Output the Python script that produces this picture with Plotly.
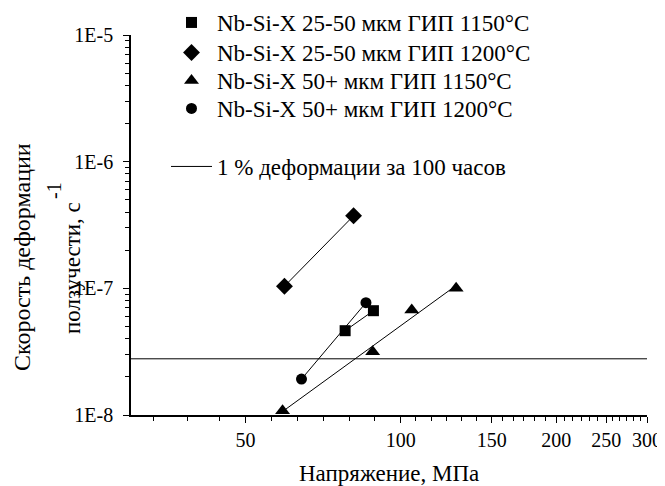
import numpy as np
import plotly.graph_objects as go

# ---- data ----
stress_25_1150 = [78.0, 88.5]
rate_25_1150 = [4.63e-8, 6.66e-8]

stress_25_1200 = [59.5, 81.0]
rate_25_1200 = [1.04e-7, 3.74e-7]

stress_50_1150 = [59.0, 88.2, 105.0, 128.0]
rate_50_1150 = [1.08e-8, 3.16e-8, 6.75e-8, 1.0e-7]

stress_50_1200 = [64.2, 85.6]
rate_50_1200 = [1.92e-8, 7.7e-8]

# 1 % strain in 100 hours
strain_limit = 0.01
hours_limit = 100
rate_limit = strain_limit / (hours_limit * 3600)

x_range = [30, 300]
y_range_exp = [-8, -5]
x_tickvals = [50, 100, 150, 200, 250, 300]
x_ticktext = ["50", "100", "150", "200", "250", "300"]
x_minor_low = [33.2, 38.6, 44.5]
y_tickvals = [1e-8, 1e-7, 1e-6, 1e-5]
y_ticktext = ["1E-8", "1E-7", "1E-6", "1E-5"]

names = [
    "Nb-Si-X 25-50 мкм ГИП 1150°C",
    "Nb-Si-X 25-50 мкм ГИП 1200°C",
    "Nb-Si-X 50+ мкм ГИП 1150°C",
    "Nb-Si-X 50+ мкм ГИП 1200°C",
]
limit_name = "1 % деформации за 100 часов"
x_title = "Напряжение, МПа"
y_title_1 = "Скорость деформации"
y_title_2 = "ползучести, с"
y_title_sup = "-1"

# ---- derived ticks ----
x_minor = list(x_minor_low)
for a, b in zip(x_tickvals[:-1], x_tickvals[1:]):
    r = (b / a) ** (1 / 6)
    x_minor += [a * r ** k for k in range(1, 6)]
y_minor = [k * 10.0 ** e for e in range(y_range_exp[0], y_range_exp[1]) for k in range(2, 10)]

# power-law fit for 50+ 1150 series
p = np.polyfit(np.log10(stress_50_1150), np.log10(rate_50_1150), 1)
fit_x = np.array([min(stress_50_1150), max(stress_50_1150)])
fit_y = 10 ** np.polyval(p, np.log10(fit_x))

FONT = "Liberation Serif, Times New Roman, serif"
black = "#000000"
TXT = 23

fig = go.Figure()

# connecting / fit lines (no legend entries)
for xs, ys in [(stress_25_1150, rate_25_1150), (stress_25_1200, rate_25_1200),
               (list(fit_x), list(fit_y)), (stress_50_1200, rate_50_1200)]:
    fig.add_trace(go.Scatter(x=xs, y=ys, mode="lines", showlegend=False,
                             hoverinfo="skip", line=dict(color=black, width=1)))

# markers (legend shows symbol only)
series = [
    (stress_25_1150, rate_25_1150, "square", 11),
    (stress_25_1200, rate_25_1200, "diamond", 13),
    (stress_50_1150, rate_50_1150, "triangle-up", 13),
    (stress_50_1200, rate_50_1200, "circle", 11),
]
for i, (xs, ys, sym, sz) in enumerate(series):
    fig.add_trace(go.Scatter(x=xs, y=ys, mode="markers", name=names[i],
                             marker=dict(symbol=sym, size=sz, color=black),
                             legend="legend" if i == 0 else f"legend{i + 1}"))

fig.add_trace(go.Scatter(x=x_range, y=[rate_limit, rate_limit], mode="lines",
                         name=limit_name, line=dict(color=black, width=1),
                         legend="legend5"))

W, H = 665, 486
OFF = 8  # page body margin
L, T = 131 - OFF, 35 - OFF
R, B = W - (647 - OFF), H - (415 - OFF)
pw, ph = W - L - R, H - T - B


def sp(sx, sy):
    """screen pixel -> paper coordinates"""
    fx, fy = sx - OFF, sy - OFF
    return (fx - L) / pw, (H - B - fy) / ph


a1 = sp(22, 257)
a2 = sp(72, 268)
a3 = sp(54, 191)
ax = sp(389, 473)

legend_tops = [1, 31, 59, 87, 145]
legends = {}
for i, top in enumerate(legend_tops):
    pos = sp(166, top)
    key = "legend" if i == 0 else f"legend{i + 1}"
    legends[key] = dict(
        x=pos[0], y=pos[1], xanchor="left", yanchor="top",
        bgcolor="rgba(0,0,0,0)", borderwidth=0,
        font=dict(family=FONT, size=TXT, color=black),
        itemwidth=41,
    )

fig.update_layout(
    width=W, height=H,
    margin=dict(l=L, r=R, t=T, b=B, pad=0, autoexpand=False),
    paper_bgcolor="white", plot_bgcolor="white",
    font=dict(family=FONT, size=TXT, color=black),
    xaxis=dict(
        type="log", range=[np.log10(x_range[0]), np.log10(x_range[1])],
        tickmode="array", tickvals=x_tickvals, ticktext=x_ticktext, tickangle=0,
        ticks="outside", ticklen=6, tickwidth=1.2, tickcolor=black,
        showline=True, linewidth=1.5, linecolor=black, mirror=False,
        showgrid=False, zeroline=False, automargin=False,
        tickfont=dict(family=FONT, size=20, color=black),
        minor=dict(tickmode="array", tickvals=x_minor, ticks="outside",
                   ticklen=4, tickwidth=1, tickcolor=black, showgrid=False),
    ),
    yaxis=dict(
        type="log", range=y_range_exp,
        tickmode="array", tickvals=y_tickvals, ticktext=y_ticktext,
        ticks="outside", ticklen=6, tickwidth=1.2, tickcolor=black,
        showline=True, linewidth=1.5, linecolor=black, mirror=False,
        showgrid=False, zeroline=False, automargin=False,
        tickfont=dict(family=FONT, size=20, color=black),
        ticklabelstandoff=6,
        minor=dict(tickmode="array", tickvals=y_minor, ticks="outside",
                   ticklen=4, tickwidth=1, tickcolor=black, showgrid=False),
    ),
    annotations=[
        dict(text=y_title_1, xref="paper", yref="paper",
             x=a1[0], y=a1[1], textangle=-90, showarrow=False,
             xanchor="center", yanchor="middle",
             font=dict(family=FONT, size=24, color=black)),
        dict(text=y_title_2, xref="paper", yref="paper",
             x=a2[0], y=a2[1], textangle=-90, showarrow=False,
             xanchor="center", yanchor="middle",
             font=dict(family=FONT, size=TXT, color=black)),
        dict(text=y_title_sup, xref="paper", yref="paper",
             x=a3[0], y=a3[1], textangle=-90, showarrow=False,
             xanchor="center", yanchor="middle",
             font=dict(family=FONT, size=20, color=black)),
        dict(text=x_title, xref="paper", yref="paper",
             x=ax[0], y=ax[1], showarrow=False,
             xanchor="center", yanchor="middle",
             font=dict(family=FONT, size=TXT, color=black)),
    ],
)
fig.update_layout(**legends)

fig.write_html("out.html")
